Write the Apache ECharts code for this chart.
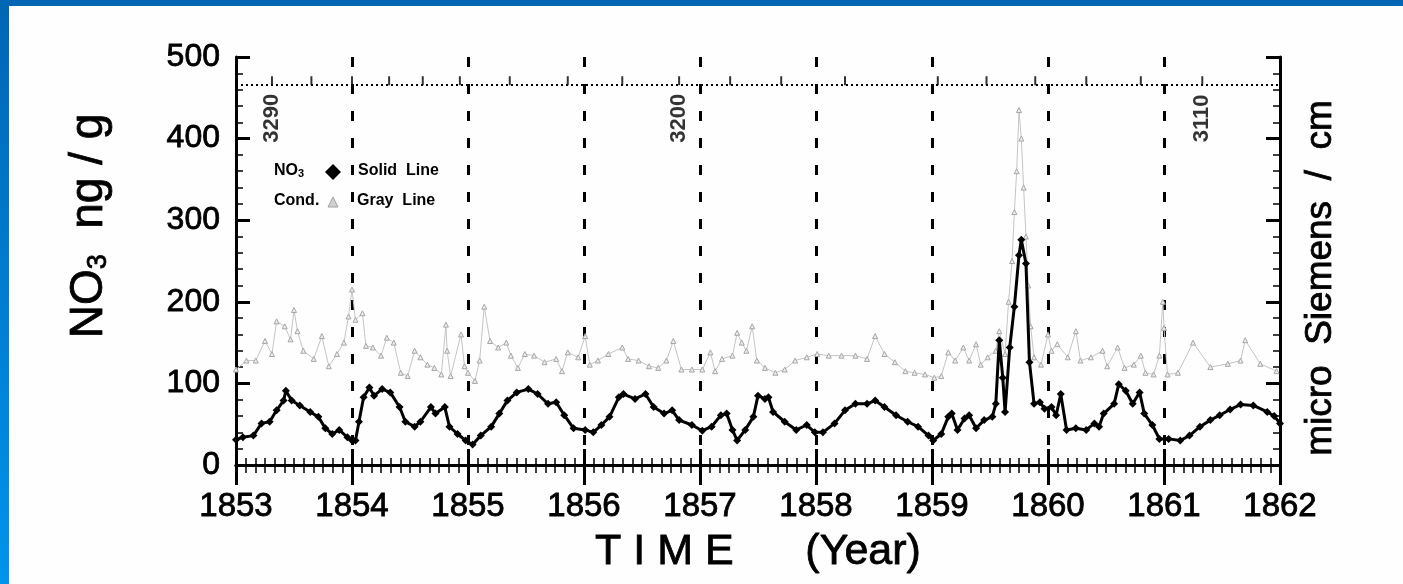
<!DOCTYPE html>
<html>
<head>
<meta charset="utf-8">
<script src="https://cdn.jsdelivr.net/npm/echarts@6/dist/echarts.min.js"></script>
<style>
  html, body { margin: 0; padding: 0; width: 1403px; height: 584px; overflow: hidden;
    background: linear-gradient(to bottom, #0066b4, #0094ec); }
  #paper { position: absolute; left: 9px; top: 6px; right: 0; bottom: 0; background: #fefefe; }
  #chart { position: absolute; left: 0; top: 0; width: 1403px; height: 584px; }
</style>
</head>
<body>
<div id="paper"></div>
<div id="chart"></div>
<script>
// Nitrate (ng/g) sampled along the core, by decimal year
const noYears = [1853.00,1853.06,1853.15,1853.22,1853.29,1853.35,1853.41,1853.43,1853.48,1853.55,
  1853.64,1853.71,1853.77,1853.83,1853.89,1853.96,1854.00,1854.03,1854.06,1854.10,
  1854.15,1854.19,1854.26,1854.33,1854.41,1854.46,1854.54,1854.59,1854.68,1854.72,
  1854.80,1854.84,1854.91,1854.98,1855.04,1855.11,1855.20,1855.27,1855.34,1855.42,
  1855.52,1855.60,1855.69,1855.76,1855.83,1855.91,1856.01,1856.08,1856.15,1856.22,
  1856.30,1856.34,1856.44,1856.53,1856.60,1856.69,1856.76,1856.82,1856.93,1857.02,
  1857.10,1857.18,1857.23,1857.28,1857.32,1857.39,1857.46,1857.50,1857.56,1857.59,
  1857.63,1857.73,1857.83,1857.92,1857.99,1858.06,1858.16,1858.25,1858.34,1858.44,
  1858.51,1858.59,1858.69,1858.79,1858.88,1858.97,1859.01,1859.08,1859.14,1859.17,
  1859.22,1859.28,1859.32,1859.38,1859.45,1859.52,1859.55,1859.58,1859.61,1859.63,
  1859.67,1859.71,1859.75,1859.77,1859.81,1859.84,1859.88,1859.93,1859.97,1860.03,
  1860.07,1860.11,1860.16,1860.24,1860.33,1860.40,1860.44,1860.48,1860.57,1860.61,
  1860.67,1860.73,1860.79,1860.83,1860.90,1860.96,1861.04,1861.14,1861.22,1861.31,
  1861.40,1861.48,1861.57,1861.66,1861.77,1861.89,1861.95,1862.00];
const noValues = [31,34,36,51,53,67,79,91,79,73,
  65,59,45,38,43,34,30,30,53,83,
  95,85,93,89,71,53,47,53,71,63,
  71,47,38,30,25,36,47,63,79,89,
  93,87,75,77,61,45,43,40,49,59,
  83,87,81,87,71,63,67,55,49,42,
  47,61,63,43,30,43,59,85,81,83,
  65,53,43,49,40,40,51,67,75,75,
  79,71,61,53,47,36,30,38,59,63,
  43,57,61,45,55,59,75,153,107,65,
  144,194,257,276,247,126,75,77,69,71,
  61,87,43,45,43,51,47,63,75,99,
  91,75,89,63,49,32,32,30,36,47,
  55,61,68,74,73,65,60,51];

// Conductivity (micro Siemens / cm), same time base
const condYears = [1853.00,1853.09,1853.17,1853.25,1853.31,1853.35,1853.42,1853.47,1853.50,1853.53,
  1853.58,1853.67,1853.74,1853.80,1853.87,1853.93,1853.97,1854.00,1854.03,1854.09,
  1854.12,1854.18,1854.25,1854.30,1854.36,1854.42,1854.48,1854.54,1854.59,1854.65,
  1854.71,1854.77,1854.81,1854.82,1854.85,1854.94,1854.97,1855.00,1855.06,1855.10,
  1855.14,1855.19,1855.26,1855.33,1855.37,1855.43,1855.49,1855.57,1855.66,1855.76,
  1855.81,1855.86,1855.95,1856.01,1856.05,1856.12,1856.21,1856.33,1856.38,1856.47,
  1856.56,1856.64,1856.71,1856.77,1856.84,1856.93,1857.02,1857.09,1857.13,1857.19,
  1857.28,1857.32,1857.36,1857.40,1857.45,1857.49,1857.56,1857.65,1857.73,1857.82,
  1857.92,1858.01,1858.11,1858.22,1858.34,1858.44,1858.51,1858.59,1858.68,1858.77,
  1858.85,1858.94,1859.02,1859.08,1859.14,1859.20,1859.27,1859.32,1859.38,1859.42,
  1859.48,1859.55,1859.58,1859.63,1859.66,1859.69,1859.71,1859.73,1859.75,1859.77,
  1859.79,1859.81,1859.83,1859.85,1859.88,1859.94,1860.00,1860.03,1860.08,1860.17,
  1860.24,1860.28,1860.37,1860.47,1860.51,1860.60,1860.66,1860.74,1860.80,1860.84,
  1860.91,1860.96,1860.99,1861.00,1861.03,1861.12,1861.25,1861.40,1861.55,1861.66,
  1861.70,1861.83,1861.97];
const condValues = [117,128,128,152,136,176,170,154,190,164,
  140,130,158,121,136,150,182,215,178,186,
  146,144,134,156,150,113,109,140,132,123,
  119,111,172,140,109,160,121,113,103,128,
  194,152,144,150,134,119,136,134,126,130,
  115,138,132,158,123,128,136,144,130,128,
  121,119,128,152,117,117,117,138,115,130,
  134,162,150,140,170,128,119,113,117,128,
  132,136,134,134,134,130,158,136,126,115,
  113,111,107,109,138,128,144,128,148,123,
  132,140,164,136,200,250,310,360,435,400,
  340,280,220,170,132,123,160,140,148,132,
  164,128,132,140,121,144,119,123,134,113,
  111,134,200,168,111,113,150,120,124,128,
  153,124,115];

// Core depth (m) reached at each decimal year
const depthYears = [1853.31,1853.65,1854.00,1854.32,1854.61,1854.93,1855.36,1855.86,1856.33,1856.82,
  1857.26,1857.70,1858.25,1859.05,1859.47,1859.89,1860.33,1860.80,1861.33];
const depthMeters = [3290,3280,3270,3260,3250,3240,3230,3220,3210,3200,
  3190,3180,3170,3160,3150,3140,3130,3120,3110];
const depthLabelStep = 90;
const depthRuleLevel = 466;   // NO3 scale value where the depth ruler sits
const depthLabelLevel = 420;

const FONT = 'Liberation Sans';
const zip = (xs, ys) => xs.map((x, i) => [x, ys[i]]);

const chart = echarts.init(document.getElementById('chart'), null, { renderer: 'canvas' });

const frameLine = { lineStyle: { color: '#000', width: 3 } };
const inkText = { color: '#000', fontFamily: FONT, textBorderColor: '#000', textBorderWidth: 0.8 };

chart.setOption({
  backgroundColor: 'transparent',
  animation: false,
  grid: { left: 236, top: 57, right: 123, bottom: 119 },
  xAxis: [
    {
      type: 'value', min: 1853, max: 1862, interval: 1, position: 'bottom',
      axisLine: frameLine,
      axisTick: { inside: true, length: 16, lineStyle: { color: '#000', width: 3 } },
      minorTick: { show: true, splitNumber: 12, length: 7, lineStyle: { color: '#000', width: 1.5 } },
      axisLabel: Object.assign({ fontSize: 33, margin: 25, formatter: v => String(v) }, inkText),
      splitLine: { show: true, lineStyle: { color: '#000', width: 3, type: [10, 17] } },
      name: 'T I M E      (Year)', nameLocation: 'middle', nameGap: 66,
      nameTextStyle: Object.assign({ fontSize: 43 }, inkText)
    },
    {
      type: 'value', min: 1853, max: 1862, interval: 1, position: 'top',
      axisLine: frameLine,
      axisTick: { inside: true, length: 20, lineStyle: { color: '#000', width: 3 } },
      minorTick: { show: true, splitNumber: 12, length: 8, lineStyle: { color: '#000', width: 1.5 } },
      axisLabel: { show: false }, splitLine: { show: false }
    }
  ],
  yAxis: [
    {
      type: 'value', min: 0, max: 500, interval: 100, position: 'left',
      axisLine: frameLine,
      axisTick: { inside: true, length: 14, lineStyle: { color: '#000', width: 3 } },
      minorTick: { show: true, splitNumber: 5, length: 7, lineStyle: { color: '#000', width: 1.5 } },
      axisLabel: Object.assign({ fontSize: 32, margin: 16 }, inkText),
      splitLine: { show: false },
      name: '{n|NO}{s|3}{n|  ng / g}', nameLocation: 'middle', nameGap: 124, nameRotate: 90,
      nameTextStyle: {
        color: '#000', padding: [0, 0, 0, 70],
        rich: {
          n: Object.assign({ fontSize: 46 }, inkText),
          s: Object.assign({ fontSize: 27, verticalAlign: 'bottom' }, inkText)
        }
      }
    },
    {
      type: 'value', min: 0, max: 500, interval: 100, position: 'right',
      axisLine: frameLine,
      axisTick: { inside: true, length: 14, lineStyle: { color: '#000', width: 3 } },
      minorTick: { show: true, splitNumber: 5, length: 7, lineStyle: { color: '#000', width: 1.5 } },
      axisLabel: { show: false }, splitLine: { show: false },
      name: 'micro  Siemens  /  cm', nameLocation: 'middle', nameGap: 22, nameRotate: 90,
      nameTextStyle: Object.assign({ fontSize: 37, padding: [0, 34, 0, 0] }, inkText)
    }
  ],
  series: [
    {
      // depth ruler along the top of the plot
      type: 'line', data: [], silent: true,
      markLine: {
        silent: true, symbol: 'none', label: { show: false },
        lineStyle: { color: '#000', width: 2, type: [2, 3] },
        data: [{ yAxis: depthRuleLevel }]
      }
    },
    {
      name: 'depth ticks', type: 'scatter', silent: true,
      symbol: 'rect', symbolSize: [2, 9], symbolOffset: [0, -4],
      itemStyle: { color: '#000' },
      data: depthYears.map(y => [y, depthRuleLevel])
    },
    {
      name: 'depth labels', type: 'scatter', silent: true, symbolSize: 0,
      data: depthYears.map((y, i) => ({ value: [y, depthLabelLevel], depth: depthMeters[i] }))
        .filter(d => (depthMeters[0] - d.depth) % depthLabelStep === 0),
      label: {
        show: true, position: 'inside', rotate: 90, offset: [4, 0],
        formatter: p => String(p.data.depth),
        color: '#000', fontSize: 22, fontWeight: 'bold', fontFamily: FONT
      }
    },
    {
      name: 'Cond.', type: 'line', yAxisIndex: 1,
      data: zip(condYears, condValues),
      symbol: 'triangle', symbolSize: 5, showSymbol: true,
      lineStyle: { color: '#c4c4c4', width: 1 },
      itemStyle: { color: '#ececec', borderColor: '#a6a6a6', borderWidth: 1 },
      z: 3
    },
    {
      name: 'NO3', type: 'line',
      data: zip(noYears, noValues),
      symbol: 'diamond', symbolSize: 8, showSymbol: true,
      lineStyle: { color: '#000', width: 3 },
      itemStyle: { color: '#000' },
      z: 4
    }
  ],
  graphic: [
    { type: 'text', left: 274, top: 163, style: {
        text: '{a|NO}{b|3}', fill: '#000',
        rich: { a: { fontSize: 16, fontWeight: 'bold', fontFamily: FONT }, b: { fontSize: 11, fontWeight: 'bold', fontFamily: FONT, verticalAlign: 'bottom' } } } },
    { type: 'polygon', shape: { points: [[333, 164], [341, 172], [333, 180], [325, 172]] }, style: { fill: '#000' } },
    { type: 'text', left: 358, top: 163, style: { text: 'Solid  Line', fill: '#000', fontSize: 16, fontWeight: 'bold', fontFamily: FONT } },
    { type: 'text', left: 274, top: 193, style: { text: 'Cond.', fill: '#000', fontSize: 16, fontWeight: 'bold', fontFamily: FONT } },
    { type: 'polygon', shape: { points: [[333, 197], [338, 207], [328, 207]] }, style: { fill: '#d0d0d0', stroke: '#a0a0a0', lineWidth: 1 } },
    { type: 'text', left: 357, top: 193, style: { text: 'Gray  Line', fill: '#000', fontSize: 16, fontWeight: 'bold', fontFamily: FONT } }
  ]
});
</script>
</body>
</html>
